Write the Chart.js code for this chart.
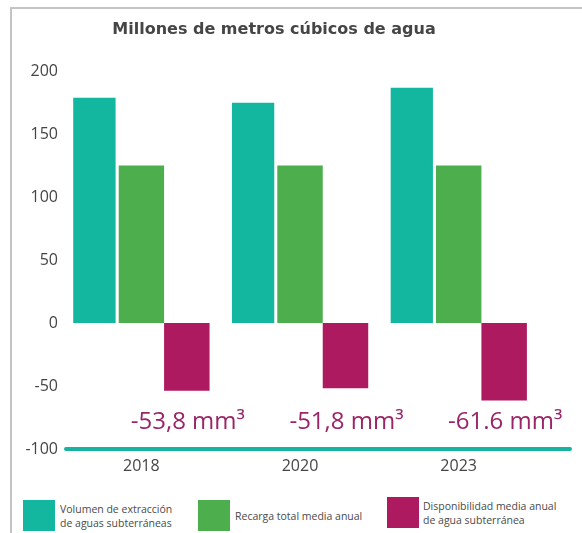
<!DOCTYPE html>
<html><head><meta charset="utf-8">
<script src="https://cdn.jsdelivr.net/npm/chart.js@4"></script>
<style>
html,body{margin:0;padding:0;background:#fff;}
#wrap{position:relative;width:582px;height:533px;overflow:hidden;font-family:"Open Sans",sans-serif;}
#frame{position:absolute;left:10px;top:7px;width:600px;height:600px;border-left:2px solid #c4c4c4;border-top:2px solid #c4c4c4;}
#title{position:absolute;left:0;top:19px;width:548px;text-align:center;font-family:"DejaVu Sans",sans-serif;font-weight:700;font-size:16px;color:#454545;}
canvas{position:absolute;left:0;top:0;}
.sw{position:absolute;width:32px;height:31px;}
.lt{position:absolute;font-size:10.5px;line-height:14px;color:#4a4a4a;white-space:nowrap;}
</style></head>
<body><div id="wrap">
<div id="frame"></div>
<canvas id="c" width="582" height="490"></canvas>
<div id="title">Millones de metros cúbicos de agua</div>
<div id="legend"></div>
</div>
<script>
const categories = ["2018", "2020", "2023"];
const seriesNames = [["Volumen de extracción", "de aguas subterráneas"], ["Recarga total media anual"], ["Disponibilidad media anual", "de agua subterránea"]];
const extraccion = [179, 175, 187];
const recarga = [125, 125, 125];
const disponibilidad = [-53.8, -51.8, -61.6];
const dispLabels = ["-53,8 mm³", "-51,8 mm³", "-61.6 mm³"];
const yTicks = [200, 150, 100, 50, 0, -50, -100];
const colors = ["#13b7a0", "#4cae4c", "#ae1a60"];

// legend
const legendPos = [{x:23,y:500,tx:60},{x:198,y:500,tx:235},{x:387,y:497,tx:423}];
const leg = document.getElementById('legend');
seriesNames.forEach((n,i)=>{
  const p = legendPos[i];
  const s = document.createElement('div'); s.className='sw';
  s.style.left=p.x+'px'; s.style.top=p.y+'px'; s.style.background=colors[i];
  leg.appendChild(s);
  const t = document.createElement('div'); t.className='lt';
  t.style.left=p.tx+'px';
  t.style.top=(p.y + 15.5 - n.length*7)+'px';
  t.innerHTML = n.join('<br>');
  leg.appendChild(t);
});

const annot = {
  id:'annot',
  afterDatasetsDraw(chart){
    const ctx = chart.ctx;
    const meta = chart.getDatasetMeta(2);
    const ys = chart.scales.y;
    ctx.save();
    ctx.font = '24px "Open Sans", sans-serif';
    ctx.fillStyle = '#9a2566';
    ctx.textAlign='center'; ctx.textBaseline='middle';
    meta.data.forEach((el,i)=>{
      ctx.fillText(dispLabels[i], el.x+1, ys.getPixelForValue(-79));
    });
    // axis line
    const y = ys.getPixelForValue(-100);
    ctx.strokeStyle = '#17b3a0'; ctx.lineWidth = 4; ctx.lineCap='round';
    ctx.beginPath(); ctx.moveTo(chart.chartArea.left+4, y); ctx.lineTo(chart.chartArea.right+32, y); ctx.stroke();
    ctx.restore();
  }
};

new Chart(document.getElementById('c'), {
  type:'bar',
  data:{
    labels: categories,
    datasets:[
      {label:seriesNames[0].join(' '), data:extraccion, backgroundColor:colors[0], borderColor:'#ffffff', borderWidth:{right:3,left:0,top:0,bottom:0}, borderSkipped:false},
      {label:seriesNames[1].join(' '), data:recarga, backgroundColor:colors[1]},
      {label:seriesNames[2].join(' '), data:disponibilidad, backgroundColor:colors[2]}
    ]
  },
  options:{
    responsive:false, animation:false,
    layout:{padding:{left:0,right:44,top:71,bottom:0}},
    datasets:{bar:{categoryPercentage:0.86, barPercentage:1.0}},
    plugins:{legend:{display:false}, tooltip:{enabled:false}, title:{display:false}},
    scales:{
      x:{
        grid:{display:false, drawTicks:false},
        border:{display:false},
        ticks:{color:'#454545', font:{family:'"Open Sans", sans-serif', size:16}, padding:8},
        afterFit(s){ s.height = 41; }
      },
      y:{
        min:-100, max:200,
        grid:{display:false, drawTicks:false},
        border:{display:false},
        afterBuildTicks(s){ s.ticks = yTicks.map(v=>({value:v})); },
        ticks:{color:'#454545', font:{family:'"Open Sans", sans-serif', size:16}, padding:4},
        afterFit(s){ s.width = 62; }
      }
    }
  },
  plugins:[annot]
});
</script>
</body></html>
